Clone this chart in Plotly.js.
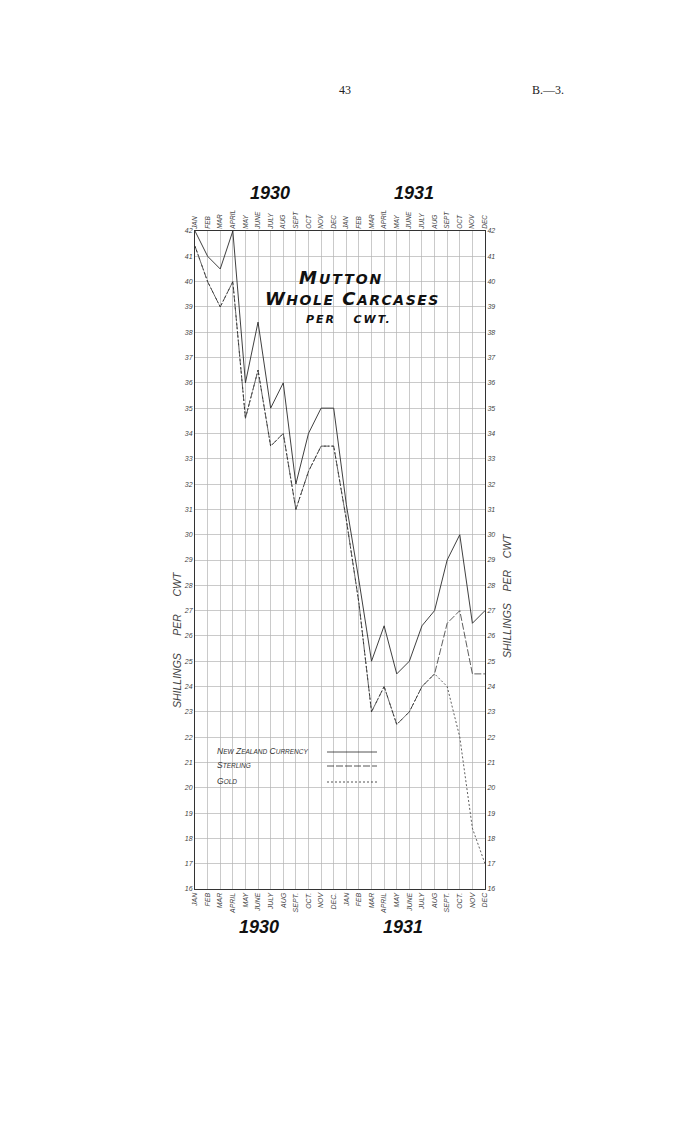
<!DOCTYPE html>
<html>
<head>
<meta charset="utf-8">
<script src="https://cdn.plot.ly/plotly-3.0.1.min.js"></script>
<style>
  html, body { margin: 0; padding: 0; background: #ffffff; }
  #chart { width: 700px; height: 1140px; }
</style>
</head>
<body>
<div id="chart"></div>
<script>
// ---------- data ----------
const months = ["JAN","FEB","MAR","APRIL","MAY","JUNE","JULY","AUG","SEPT","OCT","NOV","DEC",
                "JAN","FEB","MAR","APRIL","MAY","JUNE","JULY","AUG","SEPT","OCT","NOV","DEC"];
const monthsBottom = ["JAN","FEB","MAR","APRIL","MAY","JUNE","JULY","AUG","SEPT.","OCT.","NOV","DEC.",
                      "JAN","FEB","MAR","APRIL","MAY","JUNE","JULY","AUG","SEPT.","OCT.","NOV","DEC"];
const years = ["1930", "1931"];
const nzCurrency = [42, 41, 40.5, 42, 36, 38.4, 35, 36, 32, 34, 35, 35,
                    31.2, 28.2, 25, 26.4, 24.5, 25, 26.4, 27, 29, 30, 26.5, 27];
const sterling   = [41.4, 40, 39, 40, 34.6, 36.5, 33.5, 34, 31, 32.5, 33.5, 33.5,
                    30.6, 27.3, 23, 24, 22.5, 23, 24, 24.5, 26.5, 27, 24.5, 24.5];
const gold       = [41.4, 40, 39, 40, 34.6, 36.5, 33.5, 34, 31, 32.5, 33.5, 33.5,
                    30.6, 27.3, 23, 24, 22.5, 23, 24, 24.5, 24, 22, 18.4, 17];
const yTicks = [16,17,18,19,20,21,22,23,24,25,26,27,28,29,30,31,32,33,34,35,36,37,38,39,40,41,42];
const seriesNames = ["NEW ZEALAND CURRENCY", "STERLING", "GOLD"];

// ---------- layout helpers ----------
const L = 195, R = 485, T = 231, B = 889;
const PX = px => (px - L) / (R - L);
const PY = py => (B - py) / (B - T);
const idx = months.map((m, i) => i);

const ink = "#2a2a2a";
const smallCaps = (s, small) => s.split(" ").map(w =>
  w.length ? `${w[0]}<span style="font-size:${small}px">${w.slice(1)}</span>` : w).join(" ");

const traces = [
  { x: idx, y: nzCurrency, mode: "lines", name: seriesNames[0],
    line: { color: ink, width: 0.9 }, hoverinfo: "skip" },
  { x: idx, y: sterling, mode: "lines", name: seriesNames[1],
    line: { color: ink, width: 0.75, dash: "7px,2px" }, hoverinfo: "skip" },
  { x: idx, y: gold, mode: "lines", name: seriesNames[2],
    line: { color: ink, width: 0.75, dash: "2px,2px" }, hoverinfo: "skip" },
  // invisible trace so that the mirrored top and right axes are drawn
  { x: idx, y: nzCurrency, xaxis: "x2", yaxis: "y2", mode: "lines",
    line: { color: "rgba(0,0,0,0)", width: 0 }, hoverinfo: "skip", showlegend: false }
];

const narrow = "Liberation Sans Narrow, Liberation Sans, sans-serif";
const monthFontTop = { family: narrow, size: 6.5, color: "#444", style: "italic" };
const monthFontBot = { family: narrow, size: 7, color: "#444", style: "italic" };
const yTickFont = { family: narrow, size: 7, color: "#444", style: "italic" };
const gridC = "#b4b4b4";

const annotations = [
  // page header
  { text: "43", x: PX(345), y: PY(90), font: { family: "Liberation Serif, DejaVu Serif, serif", size: 12, color: "#222" } },
  { text: "B.—3.", x: PX(548), y: PY(90), font: { family: "Liberation Serif, DejaVu Serif, serif", size: 12, color: "#222" } },
  // year labels
  { text: `<b><i>${years[0]}</i></b>`, x: PX(270), y: PY(193), font: { family: "Liberation Sans, sans-serif", size: 18, color: "#111" } },
  { text: `<b><i>${years[1]}</i></b>`, x: PX(414), y: PY(193), font: { family: "Liberation Sans, sans-serif", size: 18, color: "#111" } },
  { text: `<b><i>${years[0]}</i></b>`, x: PX(259), y: PY(927), font: { family: "Liberation Sans, sans-serif", size: 18, color: "#111" } },
  { text: `<b><i>${years[1]}</i></b>`, x: PX(403), y: PY(927), font: { family: "Liberation Sans, sans-serif", size: 18, color: "#111" } },
  // chart title
  { text: `<b><i><span style="letter-spacing:2px">M<span style="font-size:14px">UTTON</span></span></i></b>`,
    x: PX(341), y: PY(277), font: { family: "DejaVu Sans, sans-serif", size: 18, color: "#111" } },
  { text: `<b><i><span style="letter-spacing:1.5px">W<span style="font-size:14px">HOLE</span> C<span style="font-size:14px">ARCASES</span></span></i></b>`,
    x: PX(352), y: PY(298), font: { family: "DejaVu Sans, sans-serif", size: 18, color: "#111" } },
  { text: `<b><i><span style="letter-spacing:2px">PER&nbsp;&nbsp; CWT.</span></i></b>`,
    x: PX(349), y: PY(319), font: { family: "DejaVu Sans, sans-serif", size: 11, color: "#111" } },
  // axis titles
  { text: "SHILLINGS&nbsp;&nbsp;&nbsp;&nbsp;&nbsp;&nbsp;PER&nbsp;&nbsp;&nbsp;&nbsp;&nbsp;&nbsp;CWT", textangle: -90,
    x: PX(177), y: PY(640), font: { family: "Liberation Sans, sans-serif", size: 10.5, color: "#444", style: "italic" } },
  { text: "SHILLINGS&nbsp;&nbsp;&nbsp;&nbsp;PER&nbsp;&nbsp;&nbsp;&nbsp;CWT", textangle: -90,
    x: PX(507), y: PY(596), font: { family: "Liberation Sans, sans-serif", size: 10.5, color: "#444", style: "italic" } },
  // legend labels
  { text: smallCaps(seriesNames[0], 6.5), x: PX(215), y: PY(751), xanchor: "left",
    font: { family: "Liberation Sans, sans-serif", size: 8.5, color: "#333", style: "italic" } },
  { text: smallCaps(seriesNames[1], 6.5), x: PX(215), y: PY(765), xanchor: "left",
    font: { family: "Liberation Sans, sans-serif", size: 8.5, color: "#333", style: "italic" } },
  { text: smallCaps(seriesNames[2], 6.5), x: PX(215), y: PY(781), xanchor: "left",
    font: { family: "Liberation Sans, sans-serif", size: 8.5, color: "#333", style: "italic" } }
].map(a => Object.assign({ xref: "paper", yref: "paper", showarrow: false, xanchor: "center", yanchor: "middle" }, a));

const shapes = [
  // white title box over the grid
  { type: "rect", xref: "paper", yref: "paper", x0: PX(295), x1: PX(397), y0: PY(333), y1: PY(261),
    fillcolor: "#ffffff", line: { width: 0 }, layer: "between" },
  { type: "rect", xref: "paper", yref: "paper", x0: PX(264), x1: PX(440), y0: PY(307), y1: PY(283),
    fillcolor: "#ffffff", line: { width: 0 }, layer: "between" },
  // legend sample lines
  { type: "line", xref: "paper", yref: "paper", x0: PX(327), x1: PX(377), y0: PY(752), y1: PY(752),
    line: { color: ink, width: 0.8 } },
  { type: "line", xref: "paper", yref: "paper", x0: PX(327), x1: PX(377), y0: PY(766), y1: PY(766),
    line: { color: ink, width: 0.8, dash: "7px,2px" } },
  { type: "line", xref: "paper", yref: "paper", x0: PX(327), x1: PX(377), y0: PY(782), y1: PY(782),
    line: { color: ink, width: 0.8, dash: "2px,2px" } }
];

const layout = {
  width: 700, height: 1140,
  margin: { l: L, r: 700 - R, t: T, b: 1140 - B, pad: 0 },
  paper_bgcolor: "#ffffff", plot_bgcolor: "#ffffff",
  showlegend: false,
  xaxis: {
    range: [0, 23], tickvals: idx, ticktext: monthsBottom, tickangle: -90,
    tickfont: monthFontBot, showgrid: true, gridcolor: gridC, gridwidth: 0.7,
    showline: true, linecolor: "#333", linewidth: 1, zeroline: false, ticks: "", fixedrange: true
  },
  xaxis2: {
    overlaying: "x", side: "top", matches: "x", range: [0, 23], tickvals: idx, ticktext: months,
    tickangle: -90, tickfont: monthFontTop, showgrid: false, showline: true, linecolor: "#333",
    linewidth: 1, zeroline: false, ticks: ""
  },
  yaxis: {
    range: [16, 42], tickvals: yTicks, ticktext: yTicks.map(String), tickfont: yTickFont,
    showgrid: true, gridcolor: gridC, gridwidth: 0.7, showline: true, linecolor: "#333",
    linewidth: 1, zeroline: false, ticks: "", fixedrange: true
  },
  yaxis2: {
    overlaying: "y", side: "right", matches: "y", range: [16, 42], tickvals: yTicks,
    ticktext: yTicks.map(String), tickfont: yTickFont, showgrid: false, showline: true,
    linecolor: "#333", linewidth: 1, zeroline: false, ticks: ""
  },
  annotations: annotations,
  shapes: shapes
};

Plotly.newPlot("chart", traces, layout, { staticPlot: true, displayModeBar: false });
</script>
</body>
</html>
